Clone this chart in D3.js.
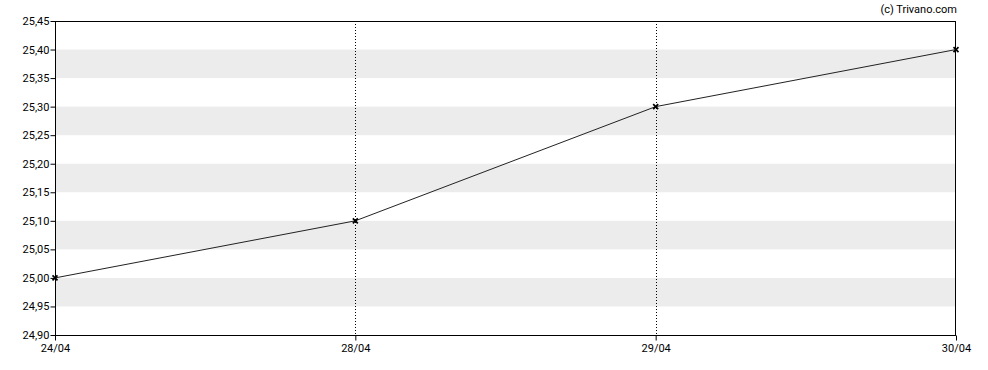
<!DOCTYPE html>
<html>
<head>
<meta charset="utf-8">
<script src="https://cdn.jsdelivr.net/npm/d3@7"></script>
<style>
  body { margin: 0; background: #fff; }
  text { font-family: Roboto, "Liberation Sans", sans-serif; font-size: 11px; fill: #000; }
</style>
</head>
<body>
<div id="chart"></div>
<script>
// data
const dates = ['24/04', '28/04', '29/04', '30/04'];
const prices = [25.00, 25.10, 25.30, 25.40];
const yTickValues = [24.90, 24.95, 25.00, 25.05, 25.10, 25.15, 25.20, 25.25, 25.30, 25.35, 25.40, 25.45];
const bandStarts = [24.95, 25.05, 25.15, 25.25, 25.35];

const width = 988, height = 370;
const margin = { top: 21, right: 32, bottom: 35, left: 55 };

const svg = d3.select('#chart')
	.append('svg')
	.attr('width', width)
	.attr('height', height);

const x = d3.scalePoint()
	.domain(dates)
	.range([margin.left, width - margin.right]);

const y = d3.scaleLinear()
	.domain([24.90, 25.45])
	.range([height - margin.bottom, margin.top]);

const fmt = d => d.toFixed(2).replace('.', ',');

// grey bands
svg.append('g')
	.selectAll('rect')
	.data(bandStarts)
	.join('rect')
	.attr('x', margin.left)
	.attr('width', width - margin.right - margin.left)
	.attr('y', d => y(d + 0.05))
	.attr('height', d => y(d) - y(d + 0.05))
	.attr('fill', '#ececec');

// dotted verticals at inner dates
svg.append('g')
	.selectAll('line')
	.data(dates.slice(1, -1))
	.join('line')
	.attr('x1', d => Math.round(x(d)) + 0.5)
	.attr('x2', d => Math.round(x(d)) + 0.5)
	.attr('y1', margin.top)
	.attr('y2', height - margin.bottom)
	.attr('stroke', '#000')
	.attr('stroke-dasharray', '1,2');

// frame
svg.append('rect')
	.attr('x', margin.left + 0.5)
	.attr('y', margin.top + 0.5)
	.attr('width', width - margin.right - margin.left - 1)
	.attr('height', height - margin.bottom - margin.top)
	.attr('fill', 'none')
	.attr('stroke', '#000');

// y axis
svg.append('g')
	.attr('transform', `translate(${margin.left + 0.5},0)`)
	.call(d3.axisLeft(y).tickValues(yTickValues).tickFormat(fmt).tickSize(5).tickSizeOuter(0))
	.call(g => g.select('.domain').remove())
	.call(g => g.selectAll('text').attr('x', -6).style('font-size', '11px').style('font-family', 'Roboto, sans-serif'));

// x axis
svg.append('g')
	.attr('transform', `translate(0,${height - margin.bottom + 0.5})`)
	.call(d3.axisBottom(x).tickSize(5).tickSizeOuter(0))
	.call(g => g.select('.domain').remove())
	.call(g => g.selectAll('text').attr('y', 9).style('font-size', '11px').style('font-family', 'Roboto, sans-serif'));

// price line
const series = dates.map((d, i) => ({ date: d, value: prices[i] }));

svg.append('path')
	.datum(series)
	.attr('fill', 'none')
	.attr('stroke', '#222')
	.attr('stroke-width', 1)
	.attr('d', d3.line().x(d => x(d.date)).y(d => y(d.value)));

// x markers
svg.append('g')
	.selectAll('path')
	.data(series)
	.join('path')
	.attr('transform', d => `translate(${x(d.date)},${y(d.value)})`)
	.attr('d', 'M-2.5,-2.5L2.5,2.5M-2.5,2.5L2.5,-2.5')
	.attr('stroke', '#000')
	.attr('stroke-width', 1.7);

// credit
svg.append('text')
	.attr('x', 957)
	.attr('y', 13)
	.attr('text-anchor', 'end')
	.text('(c) Trivano.com');
</script>
</body>
</html>
